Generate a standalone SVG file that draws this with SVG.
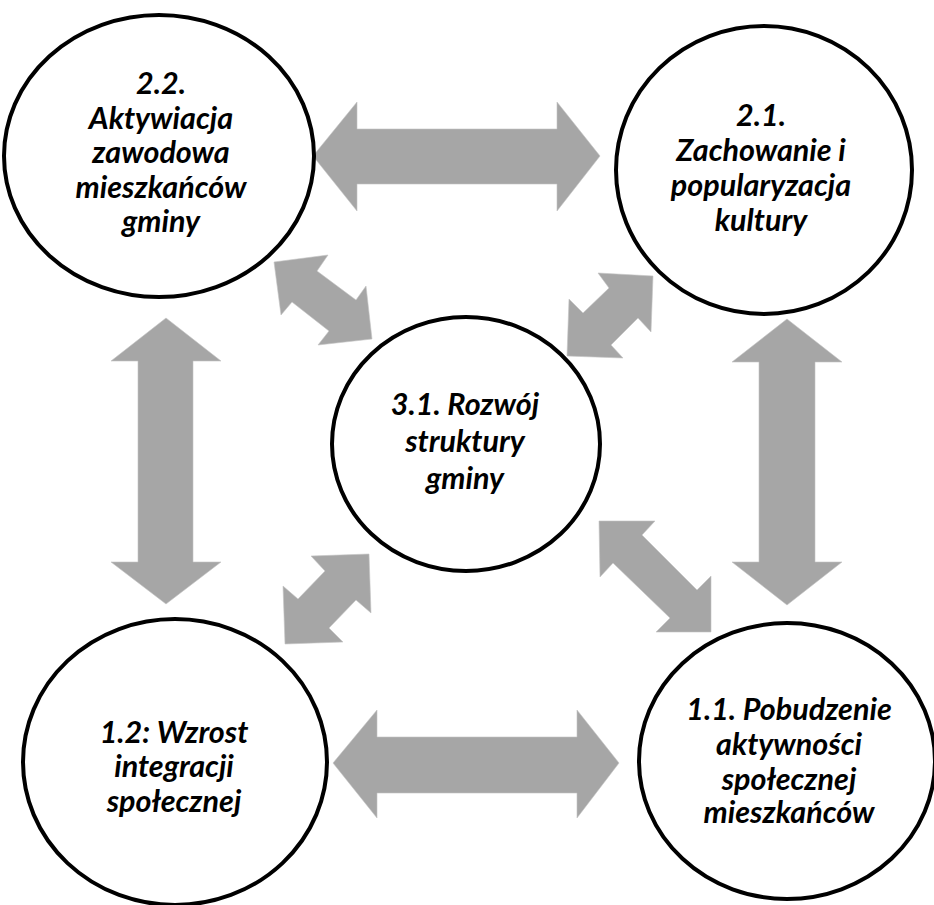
<svg xmlns="http://www.w3.org/2000/svg" width="934" height="905" viewBox="0 0 934 905">
<style>
.node ellipse{fill:#fff;stroke:#000;stroke-width:4}
.node text{font-family:Lato,"Open Sans","Liberation Sans",sans-serif;font-weight:bold;font-style:italic;font-size:30.5px;fill:#000;text-anchor:middle}
.arrow{fill:#a6a6a6;stroke:#c4c4c4;stroke-width:0.6}
</style>
<rect width="934" height="905" fill="#fff"/>
<g id="connectors">
<polygon class="arrow" points="313,156 357,102 357,129 557,129 557,102 600,156 557,211 557,184 357,184 357,211"/>
<polygon class="arrow" points="333,763 377,710 377,737 577,737 577,710 619,763 577,818 577,793 377,793 377,818"/>
<polygon class="arrow" points="166,318 221,361 193,361 193,562 221,562 166,604 111,562 138,562 138,361 111,361"/>
<polygon class="arrow" points="787,319 842,362 815,362 815,562 842,562 787,605 732,562 759,562 759,362 732,362"/>
<polygon class="arrow" points="274,262 328,255 317,271 356,300 366,286 372,339 318,345 329,331 292,302 281,315"/>
<polygon class="arrow" points="598,273 653,276 651,332 638,318 611,345 623,358 567,356 569,299 583,313 609,288"/>
<polygon class="arrow" points="311,556 369,554 371,613 356,600 329,628 343,642 285,644 283,586 298,599 325,571"/>
<polygon class="arrow" points="599,521 655,521 642,535 697,590 711,576 711,632 656,632 670,618 613,563 600,577"/>
</g>
<g id="node-22" class="node">
<ellipse cx="159" cy="156" rx="155" ry="141"/>
<text x="161" y="94">2.2.</text>
<text x="161" y="129">Aktywiacja</text>
<text x="161" y="163">zawodowa</text>
<text x="161" y="198">mieszkańców</text>
<text x="161" y="232">gminy</text>
</g>
<g id="node-21" class="node">
<ellipse cx="764" cy="170" rx="148" ry="144"/>
<text x="761" y="126">2.1.</text>
<text x="761" y="161">Zachowanie i</text>
<text x="761" y="196">popularyzacja</text>
<text x="761" y="231">kultury</text>
</g>
<g id="node-31" class="node">
<ellipse cx="466" cy="444" rx="134" ry="127"/>
<text x="465" y="415">3.1. Rozwój</text>
<text x="465" y="452">struktury</text>
<text x="465" y="489">gminy</text>
</g>
<g id="node-12" class="node">
<ellipse cx="175" cy="762" rx="152" ry="143"/>
<text x="174" y="743">1.2: Wzrost</text>
<text x="174" y="777">integracji</text>
<text x="174" y="812">społecznej</text>
</g>
<g id="node-11" class="node">
<ellipse cx="787" cy="761" rx="148" ry="138"/>
<text x="789" y="720">1.1. Pobudzenie</text>
<text x="789" y="755">aktywności</text>
<text x="789" y="790">społecznej</text>
<text x="789" y="823">mieszkańców</text>
</g>
</svg>
